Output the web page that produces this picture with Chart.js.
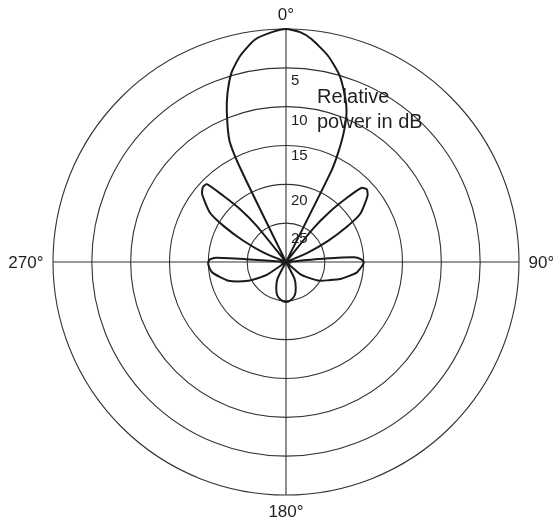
<!DOCTYPE html>
<html>
<head>
<meta charset="utf-8">
<title>Radiation pattern</title>
<style>
  html, body { margin: 0; padding: 0; background: #ffffff; }
  canvas { display: block; }
</style>
<script src="https://cdn.jsdelivr.net/npm/chart.js@4/dist/chart.umd.min.js"></script>
</head>
<body>
<canvas id="pattern" width="553" height="519"></canvas>
<script>
// Antenna radiation pattern: relative power in dB below the main-lobe peak.
// Angles are in degrees, clockwise from 0° at the top. 30 dB is the plot floor (nulls).
const STEP = 0.5;          // angular resolution of the radial axis, degrees
const FLOOR_DB = 30;

const ringTicks = [5, 10, 15, 20, 25];
const cardinalAngles = [0, 90, 180, 270];
const cardinalLabels = ['0°', '90°', '180°', '270°'];
const captionLines = ['Relative', 'power in dB'];

// main lobe
const mainLobeAngles = [333.5, 334, 335, 338.5, 341, 344, 347.5, 352, 356.5, 0, 3.5, 6.5, 11.5, 16, 19.5, 22, 24, 25.5, 26.5, 27];
const mainLobeDb     = [30, 17, 12.8, 9.2, 6.9, 4.6, 2.8, 1.1, 0.35, 0, 0.35, 1.1, 2.9, 5.0, 7.3, 9.2, 11.7, 14.4, 17, 30];

// first side lobes (upper right / upper left)
const sideRightAngles = [37.5, 39, 41, 43.5, 45.5, 48, 51, 57, 60, 63.5, 67, 69.5];
const sideRightDb     = [30, 24.5, 21.5, 18.6, 16.4, 16.0, 16.5, 18.6, 21.0, 24.0, 27.0, 30];
const sideLeftAngles  = [290.5, 293, 296.5, 300, 303, 309, 312, 314.5, 316.5, 319, 321, 322.5];
const sideLeftDb      = [30, 26.8, 23.8, 20.7, 18.3, 16.1, 15.6, 15.7, 18.2, 21, 24, 30];

// lobes near 90° and 270°
const eastAngles = [84, 85, 86, 88, 90, 92, 95, 98.5, 103, 107.5, 113, 119, 125, 130.5, 134];
const eastDb     = [30, 24.9, 21.2, 20.3, 20.0, 20.1, 20.4, 20.8, 21.8, 22.7, 24.0, 25.0, 26.5, 27.6, 30];
const westAngles = [232, 236, 240, 243.5, 248, 252, 257, 262, 265, 268, 270, 272, 273.5, 274, 275];
const westDb     = [30, 27.2, 25.8, 24.6, 23.3, 22.2, 21.3, 20.4, 20.15, 20.0, 20.0, 20.2, 21.0, 24.8, 30];

// back lobe
const backAngles = [148, 153, 159, 165, 172, 180, 188, 195, 201, 207, 212];
const backDb     = [30, 27.6, 26.5, 25.6, 25.1, 24.85, 25.1, 25.6, 26.5, 27.6, 30];

const INK = '#231f20';
const FONT = '"Liberation Sans", Arial, Helvetica, sans-serif';

// one slot per STEP degrees around the circle; unmeasured slots stay empty
const slotCount = Math.round(360 / STEP);
const angleSlots = Array.from({ length: slotCount }, (_, i) => i * STEP);
const radialValues = new Array(slotCount).fill(null);
[
  [mainLobeAngles, mainLobeDb],
  [sideRightAngles, sideRightDb],
  [sideLeftAngles, sideLeftDb],
  [eastAngles, eastDb],
  [westAngles, westDb],
  [backAngles, backDb]
].forEach(([angles, dbs]) => {
  angles.forEach((a, i) => {
    radialValues[Math.round(a / STEP) % slotCount] = FLOOR_DB - dbs[i];
  });
});

const quarterSlots = Math.round(90 / STEP);

// per-label baseline offset below its ring, px
const tickBaselineOffset = { 5: 17, 10: 18, 15: 14.5, 20: 20.5, 25: 20 };

const polarText = {
  id: 'polarText',
  afterDraw(chart) {
    const r = chart.scales.r;
    const ctx = chart.ctx;
    ctx.save();
    ctx.fillStyle = INK;

    // compass labels outside the outer ring
    ctx.font = '17px ' + FONT;
    const gap = 9.5;
    const cap = 17 * 0.716;
    cardinalAngles.forEach((deg, k) => {
      const p = r.getPointPosition(Math.round(deg / STEP) % slotCount, r.drawingArea + gap);
      const text = cardinalLabels[k];
      ctx.textBaseline = 'alphabetic';
      if (deg === 0) { ctx.textAlign = 'center'; ctx.fillText(text, p.x, p.y); }
      else if (deg === 180) { ctx.textAlign = 'center'; ctx.fillText(text, p.x, p.y + cap); }
      else if (deg === 90) { ctx.textAlign = 'left'; ctx.fillText(text, p.x, p.y + cap / 2); }
      else { ctx.textAlign = 'right'; ctx.fillText(text, p.x, p.y + cap / 2); }
    });

    // dB labels beside the 0° spoke, just inside each ring
    ctx.font = '15px ' + FONT;
    ctx.textAlign = 'left';
    ringTicks.forEach(db => {
      const dist = r.getDistanceFromCenterForValue(FLOOR_DB - db);
      ctx.fillText(String(db), r.xCenter + 5, r.yCenter - dist + tickBaselineOffset[db]);
    });

    // caption
    ctx.font = '20px ' + FONT;
    ctx.fillText(captionLines[0], r.xCenter + 31, r.yCenter - 159);
    ctx.fillText(captionLines[1], r.xCenter + 31, r.yCenter - 134);
    ctx.restore();
  }
};

new Chart(document.getElementById('pattern'), {
  type: 'radar',
  data: {
    labels: angleSlots,
    datasets: [{
      data: radialValues,
      borderColor: '#1a1a1a',
      borderWidth: 2,
      fill: false,
      spanGaps: true,
      tension: 0.2,
      pointRadius: 0,
      pointHoverRadius: 0
    }]
  },
  options: {
    responsive: false,
    animation: false,
    events: [],
    layout: { padding: { left: 53, right: 33, top: 29, bottom: 24 } },
    plugins: { legend: { display: false }, tooltip: { enabled: false } },
    scales: {
      r: {
        min: 0,
        max: FLOOR_DB,
        ticks: { stepSize: 5, display: false },
        pointLabels: { display: false },
        grid: { circular: true, color: '#333333', lineWidth: 1.1 },
        angleLines: {
          color: '#333333',
          lineWidth: ctx => (ctx.index % quarterSlots === 0 ? 1.1 : 0)
        }
      }
    }
  },
  plugins: [polarText]
});
</script>
</body>
</html>
